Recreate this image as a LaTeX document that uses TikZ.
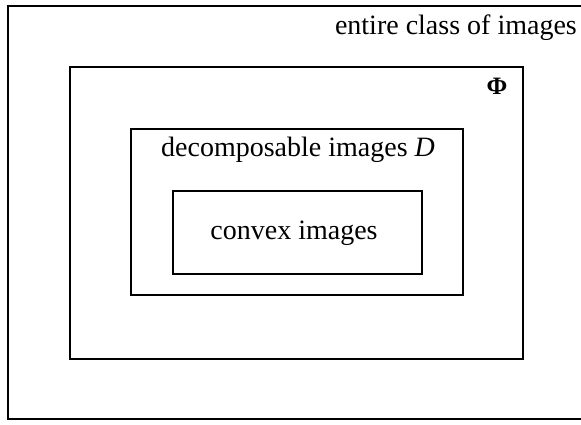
\documentclass[tikz,border=0pt]{standalone}
\usepackage{fontspec}
\setmainfont{Liberation Serif}
\begin{document}
\begin{tikzpicture}[x=1pt,y=-1pt,
  box/.style={draw=black,line width=1.4pt},
  lbl/.style={font=\fontsize{28}{32}\selectfont,inner sep=0pt}]
\useasboundingbox (0,0) rectangle (581,425);
\fill[white] (0,0) rectangle (581,425);
\draw[box] (590,6) -- (8,6) -- (8,419) -- (590,419);
\draw[box] (70,67) rectangle (523,359);
\draw[box] (131,129) rectangle (463,295);
\draw[box] (173,191) rectangle (422,274);
\node[lbl,anchor=base east] (title) at (577,35) {entire class of images};
\node[lbl,anchor=base,font=\fontsize{25}{28}\selectfont] (phi) at (497,95) {\textbf{Φ}};
\node[lbl,anchor=base] (dec) at (298,157) {decomposable images \textit{D}};
\node[lbl,anchor=base] (cvx) at (294,239) {convex images};
\end{tikzpicture}
\end{document}
